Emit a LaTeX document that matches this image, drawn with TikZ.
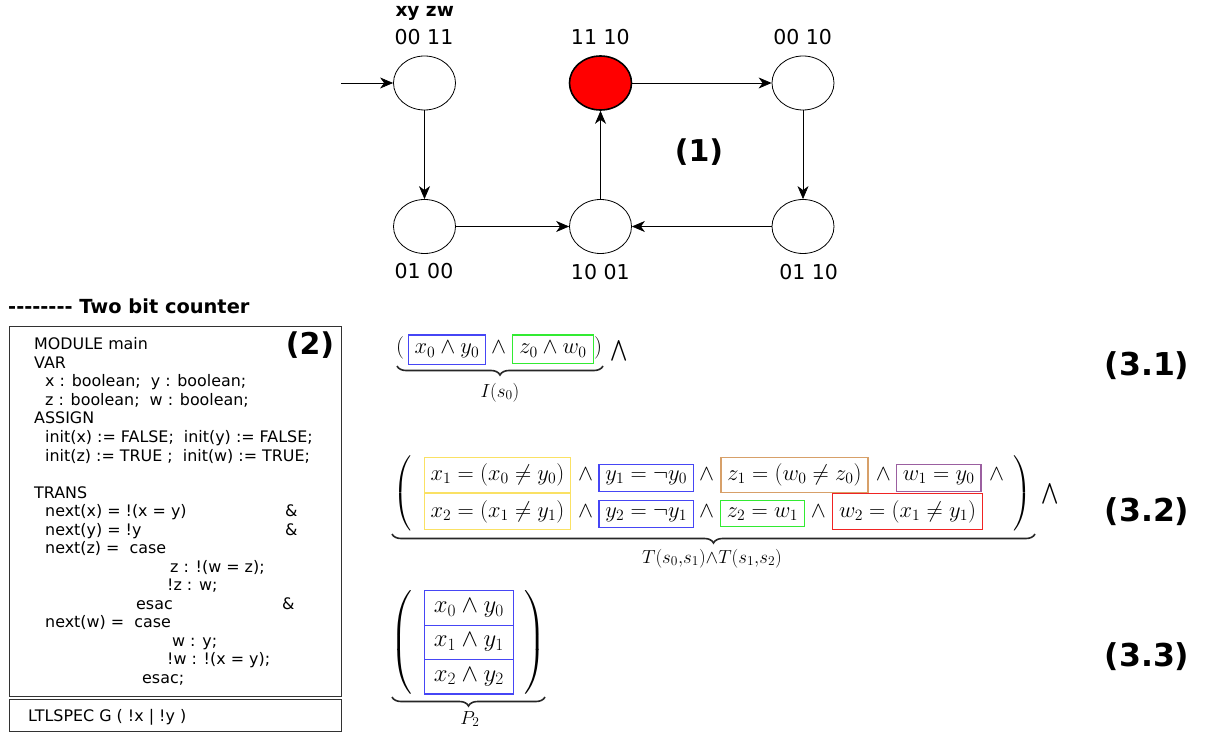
\RequirePackage{fix-cm}
\documentclass[tikz,border=0pt]{standalone}
\usepackage{exscale}
\usepackage[no-math]{fontspec}
\newfontfamily\dv{DejaVu Sans}
\usetikzlibrary{shapes.geometric,decorations.pathreplacing,arrows.meta}
\definecolor{bblue}{RGB}{70,70,245}
\definecolor{bgreen}{RGB}{50,235,50}
\definecolor{byellow}{RGB}{250,225,100}
\definecolor{btan}{RGB}{215,160,105}
\definecolor{bpurple}{RGB}{155,95,160}
\definecolor{bred}{RGB}{240,35,35}
\definecolor{boxline}{RGB}{50,50,50}
\begin{document}
\begin{tikzpicture}[x=1pt,y=-1pt,
  state/.style={draw, ellipse, minimum width=62pt, minimum height=54pt, inner sep=0pt, line width=0.8pt},
  hot/.style={state, fill=red, line width=1.6pt},
  edge/.style={-{Stealth[length=13pt,width=11pt,inset=4pt]}, line width=0.7pt},
  lbl/.style={font=\dv\fontsize{20.5}{24}\selectfont, anchor=base, inner sep=0pt},
  hdr/.style={font=\dv\bfseries\fontsize{18.5}{22}\selectfont, anchor=base, inner sep=0pt},
  tag/.style={font=\dv\bfseries\fontsize{30}{35}\selectfont, inner sep=0pt},
  tagb/.style={font=\dv\bfseries\fontsize{31.5}{36}\selectfont, inner sep=0pt},
  code/.style={font=\dv\fontsize{15.9}{18}\selectfont, anchor=base west, inner sep=0pt},
  frame/.style={draw=boxline, line width=0.9pt, anchor=north west, inner sep=0pt},
  fm/.style={font=\fontsize{22.5}{26}\selectfont, inner sep=0pt},
  fmb/.style={fm, anchor=base},
  flab/.style={font=\fontsize{27}{30}\selectfont, inner sep=0pt, anchor=base},
  cbox/.style={fm, draw=#1, line width=1.2pt, inner sep=6.5pt, anchor=base},
  fc/.style={font=\fontsize{24.7}{29}\selectfont, inner sep=0pt},
  pbox/.style={fc, draw=bblue, line width=1.3pt, minimum width=89pt, minimum height=34.4pt},
  brace/.style={decorate, decoration={brace, mirror, amplitude=9pt}, line width=1.6pt, black!85}
]
\useasboundingbox (0,0) rectangle (1208,735);

% ---------------- graph (1)
\node[state] (s0011) at (424.5,83) {};
\node[hot]   (s1110) at (600.5,83) {};
\node[state] (s0010) at (803,83) {};
\node[state] (s0100) at (424.5,226.5) {};
\node[state] (s1001) at (600.5,226.5) {};
\node[state] (s0110) at (803,226.5) {};
\coordinate (init) at (341,83);
\draw[edge] (init) -- (s0011);
\draw[edge] (s0011) -- (s0100);
\draw[edge] (s0100) -- (s1001);
\draw[edge] (s1001) -- (s1110);
\draw[edge] (s1110) -- (s0010);
\draw[edge] (s0010) -- (s0110);
\draw[edge] (s0110) -- (s1001);

\node[hdr] (xyzw) at (424.7,17) {xy zw};
\node[lbl] (t0011) at (424,45) {00 11};
\node[lbl] (t1110) at (600.3,45) {11 10};
\node[lbl] (t0010) at (802.7,45) {00 10};
\node[lbl] (t0100) at (424,278.5) {01 00};
\node[lbl] (t1001) at (600.3,280) {10 01};
\node[lbl] (t0110) at (808.7,280) {01 10};
\node[tag] (n1) at (699,152) {(1)};

% ---------------- code (2)
\node[hdr, anchor=base west, font=\dv\bfseries\fontsize{19.4}{22}\selectfont] (title) at (8,313.5) {-------- Two bit counter};
\node[frame, minimum width=332pt, minimum height=370pt] (codebox) at (9,326) {};
\node[frame, minimum width=332pt, minimum height=32pt] (specbox) at (9,699) {};
\node[tag] (n2) at (310,345) {(2)};

\node[code] (c0)  at (34,350)   {MODULE main};
\node[code] (c1)  at (34,368.5) {VAR};
\node[code] (c2)  at (45,387)   {x : boolean;\ \ y : boolean;};
\node[code] (c3)  at (45,405.5) {z : boolean;\ \ w : boolean;};
\node[code] (c4)  at (34,424)   {ASSIGN};
\node[code] (c5)  at (45,442.5) {init(x) := FALSE;\ \ init(y) := FALSE;};
\node[code] (c6)  at (45,461)   {init(z) := TRUE ;\ \ init(w) := TRUE;};
\node[code] (c8)  at (34,498)   {TRANS};
\node[code] (c9)  at (45,516.5) {next(x) = !(x = y)};
\node[code] (c9a) at (285,516.5) {\&};
\node[code] (c10) at (45,535)   {next(y) = !y};
\node[code] (c10a) at (285,535) {\&};
\node[code] (c11) at (45,553.5) {next(z) =\ \ case};
\node[code] (c12) at (170,572)  {z : !(w = z);};
\node[code] (c13) at (167,590.5) {!z : w;};
\node[code] (c14) at (136,609)  {esac};
\node[code] (c14a) at (282,609) {\&};
\node[code] (c15) at (45,627.5) {next(w) =\ \ case};
\node[code] (c16) at (172,646)  {w : y;};
\node[code] (c17) at (167,664.5) {!w : !(x = y);};
\node[code] (c18) at (142,683)  {esac;};
\node[code] (c19) at (28,721.5) {LTLSPEC G ( !x | !y )};

% ---------------- formula (3.1)
\node[fmb] (p31l) at (400,354) {$($};
\node[cbox=bblue] (b31a) at (447,354) {$x_0\wedge y_0$};
\node[fmb] (w31a) at (498.5,354) {$\wedge$};
\node[cbox=bgreen] (b31b) at (553,354) {$z_0\wedge w_0$};
\node[fmb] (p31r) at (598,354) {$)$};
\node[fm] (bw31) at (619,350.5) {$\bigwedge$};
\coordinate (br31a) at (397,366);
\coordinate (br31b) at (603,366);
\draw[brace] (br31a) -- (br31b);
\node[flab] (l31) at (500,397) {$\scriptstyle I(s_0)$};
\node[tagb] (n31) at (1147,366) {(3.1)};

% ---------------- formula (3.2)
\node[fm] (p32l) at (403.5,493.5) {$\left(\vcenter{\hbox{\rule{0pt}{77pt}}}\right.$};
\node[cbox=byellow] (y1) at (497.5,480.5) {$x_1=(x_0\neq y_0)$};
\node[fmb] (w1a) at (585.7,480.5) {$\wedge$};
\node[cbox=bblue] (u1) at (646.2,480.5) {$y_1=\neg y_0$};
\node[fmb] (w1b) at (706.7,480.5) {$\wedge$};
\node[cbox=btan] (z1) at (794.5,480.5) {$z_1=(w_0\neq z_0)$};
\node[fmb] (w1c) at (883.3,480.5) {$\wedge$};
\node[cbox=bpurple] (v1) at (938.7,480.5) {$w_1=y_0$};
\node[fmb] (w1d) at (996.7,480.5) {$\wedge$};
\node[cbox=byellow] (y2) at (497.5,517) {$x_2=(x_1\neq y_1)$};
\node[fmb] (w2a) at (585.7,517) {$\wedge$};
\node[cbox=bblue] (u2) at (646.2,517) {$y_2=\neg y_1$};
\node[fmb] (w2b) at (706.7,517) {$\wedge$};
\node[cbox=bgreen] (z2) at (762.5,517) {$z_2=w_1$};
\node[fmb] (w2c) at (818.3,517) {$\wedge$};
\node[cbox=bred] (v2) at (907.5,517) {$w_2=(x_1\neq y_1)$};
\node[fm] (p32r) at (1021.5,493.5) {$\left.\vcenter{\hbox{\rule{0pt}{77pt}}}\right)$};
\node[fm] (bw32) at (1050,494) {$\bigwedge$};
\coordinate (br32a) at (392,534);
\coordinate (br32b) at (1035,534);
\draw[brace] (br32a) -- (br32b);
\node[flab] (l32) at (712,563) {$\scriptstyle T(s_0,s_1)\wedge T(s_1,s_2)$};
\node[tagb] (n32) at (1147,511.7) {(3.2)};

% ---------------- formula (3.3)
\node[fc] (p33l) at (402,642.5) {$\left(\vcenter{\hbox{\rule{0pt}{101pt}}}\right.$};
\node[pbox] (q0) at (468.8,608) {$x_0\wedge y_0$};
\node[pbox] (q1) at (468.8,642.5) {$x_1\wedge y_1$};
\node[pbox] (q2) at (468.8,676.8) {$x_2\wedge y_2$};
\node[fc] (p33r) at (535,642.5) {$\left.\vcenter{\hbox{\rule{0pt}{101pt}}}\right)$};
\coordinate (br33a) at (392,697);
\coordinate (br33b) at (545,697);
\draw[brace] (br33a) -- (br33b);
\node[flab] (l33) at (470,724) {$\scriptstyle P_2$};
\node[tagb] (n33) at (1147,656.7) {(3.3)};
\end{tikzpicture}
\end{document}
